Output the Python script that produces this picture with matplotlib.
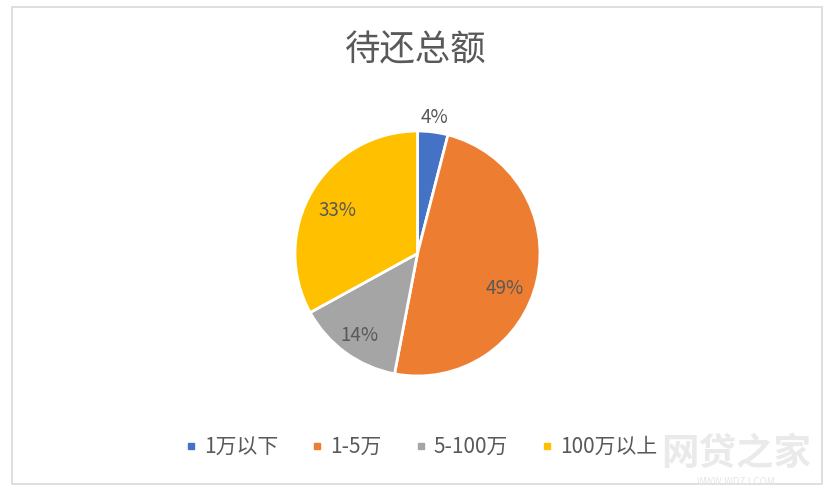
import numpy as np
import matplotlib
matplotlib.use("Agg")
import matplotlib.pyplot as plt
from matplotlib.lines import Line2D
from matplotlib.patches import Rectangle

plt.rcParams['font.family'] = ['Noto Sans CJK SC', 'DejaVu Sans']

# Data
categories = ['1万以下', '1-5万', '5-100万', '100万以上']
values = [4, 49, 14, 33]
colors = ['#4472C4', '#ED7D31', '#A5A5A5', '#FFC000']
text_color = '#595959'

# label placement tweaks (radius fraction, angle shift in degrees)
label_r = [1.12, 0.77, 0.82, 0.74]
label_shift = [0, -9, 1, 2]

W, H = 836, 497
fig = plt.figure(figsize=(W / 100, H / 100), dpi=100)

# Chart border
fig.patches.append(Rectangle((12 / W, 1 - 484 / H), 810 / W, 477 / H,
                             transform=fig.transFigure, fill=False,
                             edgecolor='#D9D9D9', linewidth=1.2))

# Pie axes placed by pixel center / radius
cx, cy, R = 417.5, 253.5, 122.5
half = 160
ax = fig.add_axes([(cx - half) / W, 1 - (cy + half) / H, 2 * half / W, 2 * half / H])
lim = half / R

wedges, texts, autotexts = ax.pie(values, colors=colors, startangle=90, counterclock=False,
                                  autopct='%d%%', pctdistance=0.76, radius=1,
                                  wedgeprops=dict(edgecolor='white', linewidth=2),
                                  textprops=dict(color=text_color, fontsize=13.5))
ax.set_xlim(-lim, lim)
ax.set_ylim(-lim, lim)
ax.set_aspect('equal')
ax.axis('off')

for w, t, r, s in zip(wedges, autotexts, label_r, label_shift):
    ang = np.deg2rad((w.theta1 + w.theta2) / 2 + s)
    t.set_position((r * np.cos(ang), r * np.sin(ang)))

# Title
fig.text(416 / W, 1 - 50 / H, '待还总额', ha='center', va='center', fontsize=25.5, color=text_color)

# Legend
handles = [Line2D([0], [0], marker='s', linestyle='', markersize=5,
                  markerfacecolor=c, markeredgecolor=c) for c in colors]
fig.legend(handles, categories, loc='center', bbox_to_anchor=(421 / W, 1 - 447 / H),
           ncol=4, frameon=False, fontsize=15, labelcolor=text_color,
           handlelength=0.6, handletextpad=0.3, columnspacing=1.6)

# Watermark
fig.text(736 / W, 1 - 453 / H, '网贷之家', ha='center', va='center', fontsize=27,
         color='#EAEAEA', fontweight='bold')
fig.text(736 / W, 1 - 482 / H, 'WWW.WDZJ.COM', ha='center', va='center', fontsize=7,
         color='#E6E6E6')

fig.savefig('out.png', dpi=100)
